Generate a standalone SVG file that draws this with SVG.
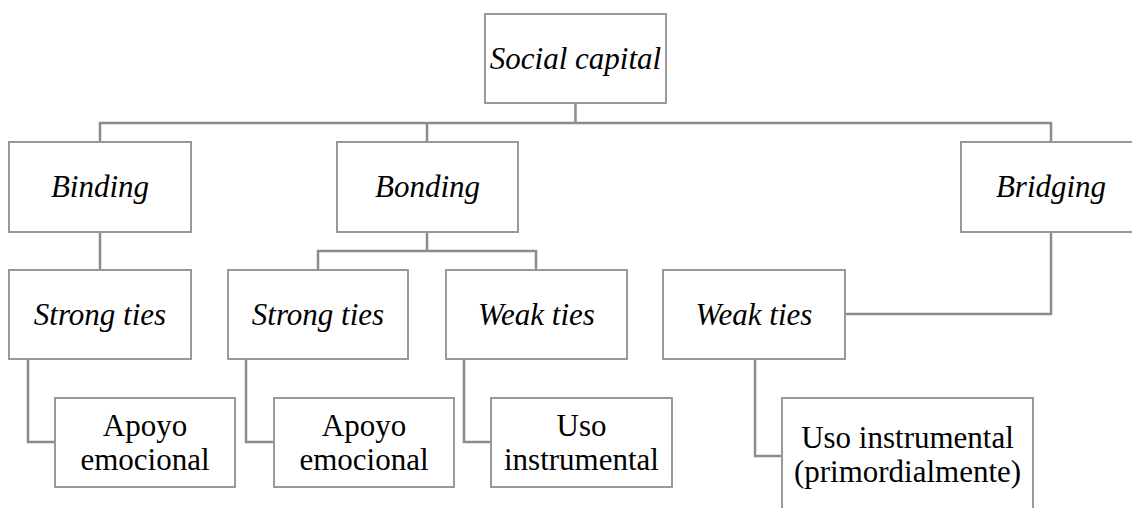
<svg xmlns="http://www.w3.org/2000/svg" width="1132" height="508" viewBox="0 0 1132 508">
<style>
.box{fill:#fff;stroke:#999;stroke-width:2}
.con{fill:none;stroke:#8c8c8c;stroke-width:2.5}
.it{font-style:italic;font-size:31px;fill:#000;text-anchor:middle}
.up{font-size:31px;fill:#000;text-anchor:middle}
</style>
<rect width="1132" height="508" fill="#fff"/>
<g id="connectors">
<path class="con" d="M575.5,103 V123 M100,142 V123 H1051 V142 M427,123 V142"/>
<path class="con" d="M100,232 V270"/>
<path class="con" d="M427,232 V251 M318,270 V251 H536 V270"/>
<path class="con" d="M1051,232 V314 H845"/>
<path class="con" d="M28,359 V442 H55"/>
<path class="con" d="M246,359 V442 H274"/>
<path class="con" d="M464,359 V442 H491"/>
<path class="con" d="M755,359 V456 H782"/>
</g>
<g font-family="'Liberation Serif', 'DejaVu Serif', serif">
<g id="social-capital"><rect class="box" x="485" y="14" width="181" height="89"/><text class="it" x="575.5" y="68.5">Social capital</text></g>
<g id="binding"><rect class="box" x="9" y="142" width="182" height="90"/><text class="it" x="100" y="197">Binding</text></g>
<g id="bonding"><rect class="box" x="337" y="142" width="181" height="90"/><text class="it" x="427.5" y="197">Bonding</text></g>
<g id="bridging"><rect class="box" x="961" y="142" width="200" height="90"/><text class="it" x="1051" y="197">Bridging</text></g>
<g id="strong-ties-1"><rect class="box" x="9" y="270" width="182" height="89"/><text class="it" x="100" y="324.5">Strong ties</text></g>
<g id="strong-ties-2"><rect class="box" x="228" y="270" width="180" height="89"/><text class="it" x="318" y="324.5">Strong ties</text></g>
<g id="weak-ties-1"><rect class="box" x="446" y="270" width="181" height="89"/><text class="it" x="536.5" y="324.5">Weak ties</text></g>
<g id="weak-ties-2"><rect class="box" x="663" y="270" width="182" height="89"/><text class="it" x="754" y="324.5">Weak ties</text></g>
<g id="apoyo-1"><rect class="box" x="55" y="398" width="180" height="89"/><text class="up" x="145" y="436">Apoyo</text><text class="up" x="145" y="470">emocional</text></g>
<g id="apoyo-2"><rect class="box" x="274" y="398" width="180" height="89"/><text class="up" x="364" y="436">Apoyo</text><text class="up" x="364" y="470">emocional</text></g>
<g id="uso-1"><rect class="box" x="491" y="398" width="181" height="89"/><text class="up" x="581.5" y="436">Uso</text><text class="up" x="581.5" y="470">instrumental</text></g>
<g id="uso-2"><rect class="box" x="782" y="398" width="251" height="130"/><text class="up" x="907.5" y="448">Uso instrumental</text><text class="up" x="907.5" y="482">(primordialmente)</text></g>
</g>
</svg>
